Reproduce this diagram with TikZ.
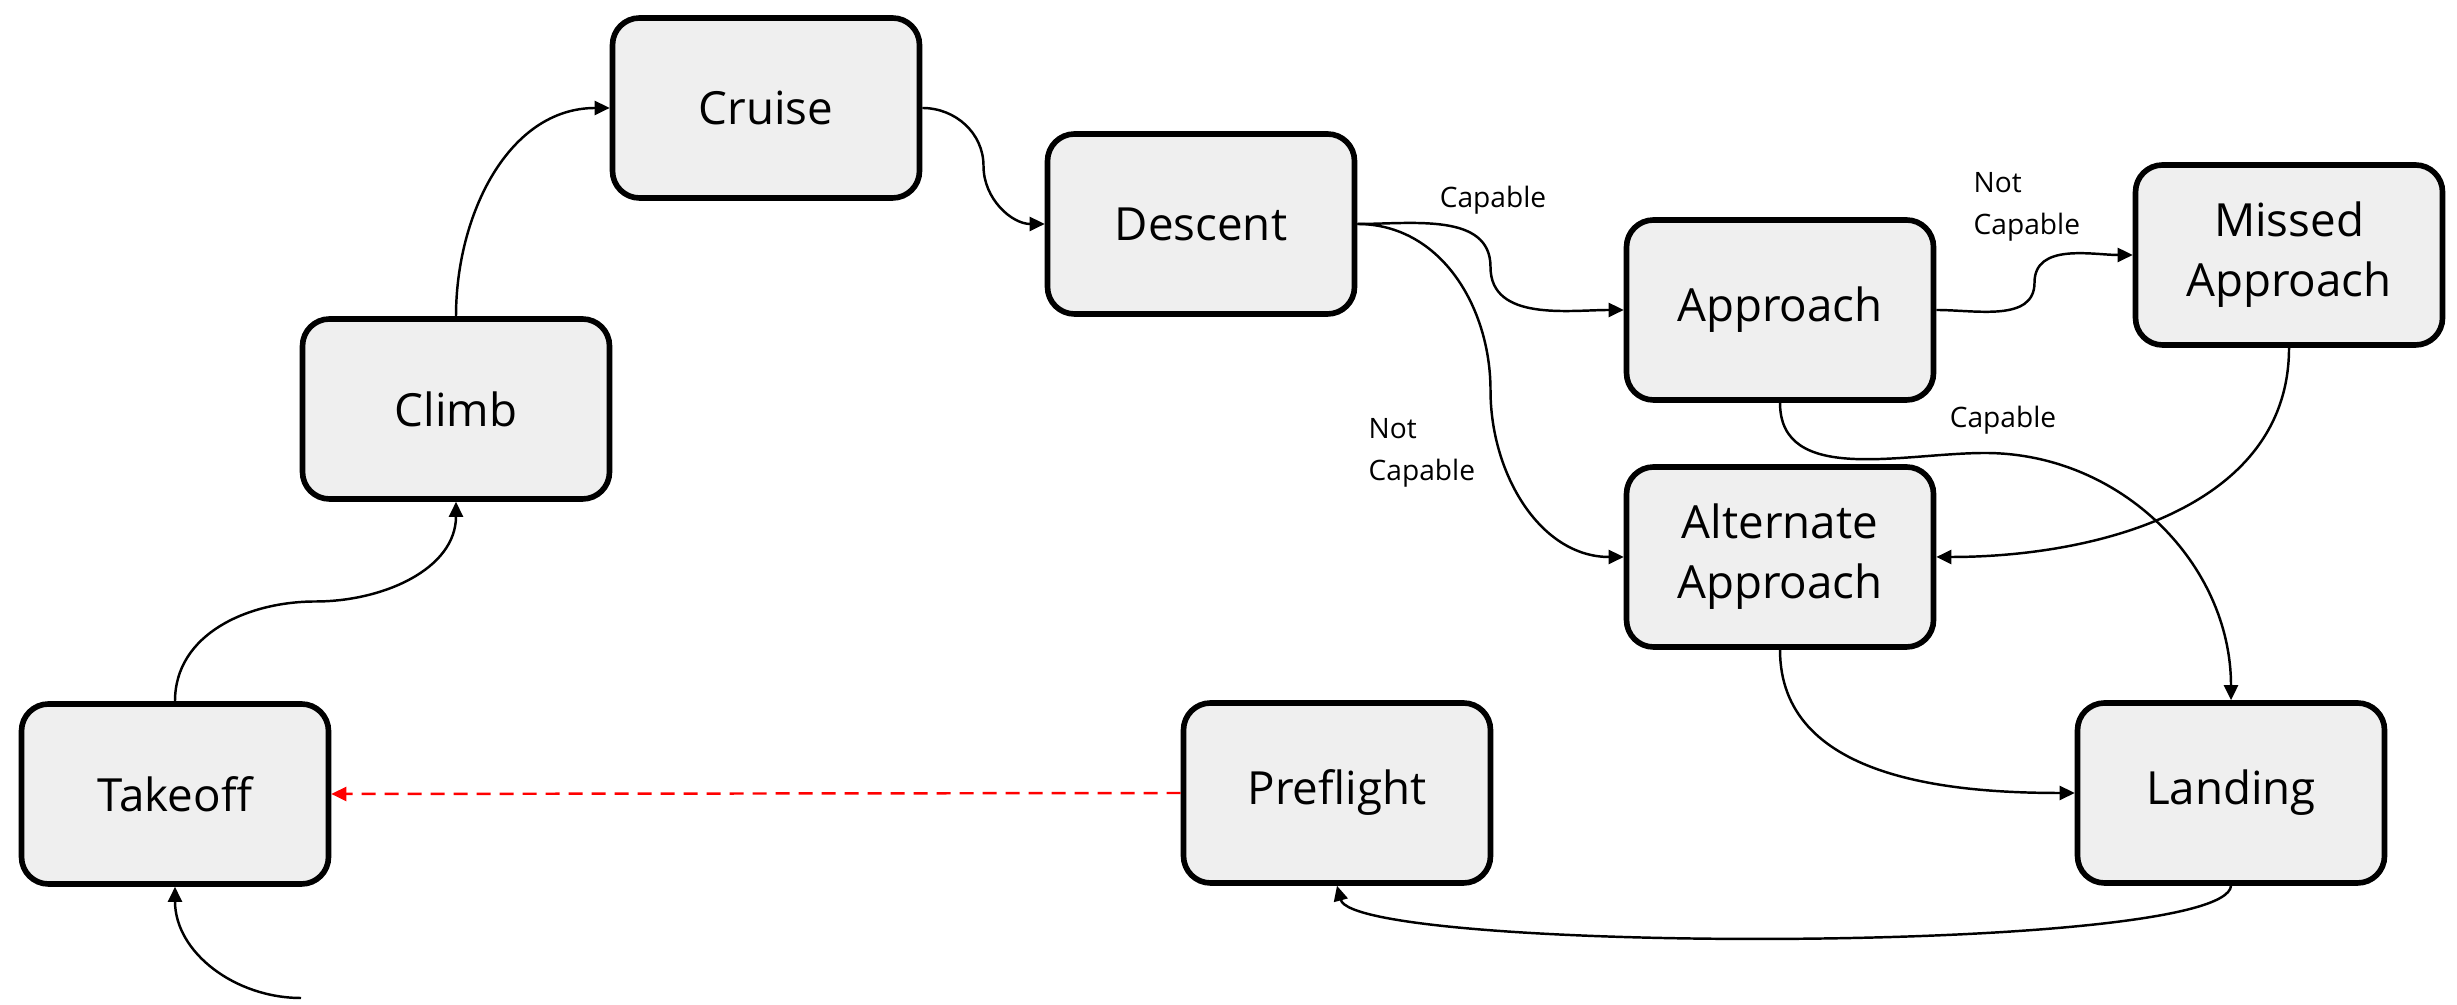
\documentclass[tikz,border=0pt]{standalone}
\usepackage{fontspec}
\setmainfont{Open Sans}
\usetikzlibrary{arrows.meta,calc}
\definecolor{boxfill}{HTML}{EFEFEF}
\begin{document}
\begin{tikzpicture}[
  state/.style={draw, line width=1.6pt, rounded corners=0.27cm, fill=boxfill,
    minimum width=3.07cm, minimum height=1.8cm, align=center,
    font=\fontsize{13}{17}\selectfont},
  flow/.style={line width=0.7pt, -{Triangle[length=1.5mm,width=1.4mm]}},
  cond/.style={font=\fontsize{8}{12}\selectfont, align=left, inner sep=0pt}
]
\useasboundingbox (0,0) rectangle (24.57,10.05);
\node[state] (takeoff) at (1.75,2.11) {Takeoff};
\node[state] (climb) at (4.56,5.96) {Climb};
\node[state] (cruise) at (7.66,8.97) {Cruise};
\node[state] (descent) at (12.01,7.81) {Descent};
\node[state] (approach) at (17.80,6.95) {Approach};
\node[state] (missed) at (22.89,7.50) {Missed\\Approach};
\node[state] (alternate) at (17.80,4.48) {Alternate\\Approach};
\node[state] (preflight) at (13.37,2.12) {Preflight};
\node[state] (landing) at (22.31,2.12) {Landing};
\coordinate (entry) at (3.01,0.07);
\coordinate (apbend) at (19.85,5.52);
\draw[flow] (entry) to[out=180,in=-90] (takeoff.south);
\draw[flow] (takeoff.north) to[out=90,in=180] ($(takeoff.north)!0.5!(climb.south)$) to[out=0,in=-90] (climb.south);
\draw[flow] (climb.north) to[out=90,in=180] (cruise.west);
\draw[flow] (cruise.east) to[out=0,in=90] ($(cruise.east)!0.5!(descent.west)$) to[out=-90,in=180] (descent.west);
\draw[flow] (descent.east) to[out=0,in=90] ($(descent.east)!0.5!(approach.west)$) to[out=-90,in=180] (approach.west);
\draw[flow] (descent.east) to[out=0,in=90] ($(descent.east)!0.5!(alternate.west)$) to[out=-90,in=180] (alternate.west);
\draw[flow] (approach.east) to[out=0,in=-90] ($(approach.east)!0.5!(missed.west)$) to[out=90,in=180] (missed.west);
\draw[flow] (approach.south) to[out=-90,in=180] (apbend) to[out=0,in=90] (landing.north);
\draw[flow] (missed.south) to[out=-90,in=0] (alternate.east);
\draw[flow] (alternate.south) to[out=-90,in=180] (landing.west);
\draw[flow] (landing.south) to[out=-95,in=-75,looseness=0.2] (preflight.south);
\draw[flow, red, dashed, dash pattern=on 1.4mm off 0.9mm] (preflight.west) -- (takeoff.east);
\node[cond] (capA) at (14.93,8.05) {Capable};
\node[cond, anchor=west] (notcapA) at (19.73,7.98) {Not\\Capable};
\node[cond] (capB) at (20.03,5.85) {Capable};
\node[cond, anchor=west] (notcapB) at (13.68,5.52) {Not\\Capable};
\end{tikzpicture}
\end{document}
